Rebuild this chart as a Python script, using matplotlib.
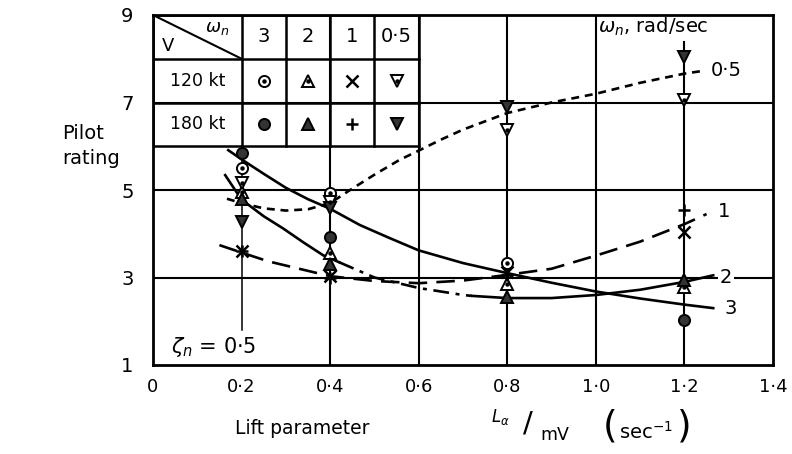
import numpy as np
import matplotlib.pyplot as plt

plt.rcParams['font.family'] = ['DejaVu Sans']
plt.rcParams['mathtext.fontset'] = 'dejavusans'

# pilot rating against L_alpha/mV, zeta_n = 0.5
# 120 kt
x_120_w3 = [0.2, 0.4, 0.8]
y_120_w3 = [5.5, 4.93, 3.33]
x_120_w2 = [0.2, 0.4, 0.8, 1.2]
y_120_w2 = [4.95, 3.55, 2.85, 2.78]
x_120_w1 = [0.2, 0.4, 0.8, 1.2]
y_120_w1 = [3.6, 3.03, 3.12, 4.04]
x_120_w05 = [0.2, 0.4, 0.8, 1.2]
y_120_w05 = [5.15, 4.72, 6.37, 7.06]
# 180 kt
x_180_w3 = [0.2, 0.4, 1.2]
y_180_w3 = [5.84, 3.93, 2.03]
x_180_w2 = [0.2, 0.4, 0.8, 1.2]
y_180_w2 = [4.8, 3.3, 2.55, 2.94]
x_180_w1 = [0.2, 0.4, 0.8, 1.2]
y_180_w1 = [3.6, 3.0, 3.05, 4.54]
x_180_w05 = [0.2, 0.4, 0.8, 1.2]
y_180_w05 = [4.27, 4.6, 6.9, 8.04]

# faired curves for each omega_n
c3_x = [0.17, 0.2, 0.25, 0.3, 0.35, 0.4, 0.467, 0.53, 0.6, 0.7, 0.8, 0.9, 1.0, 1.1, 1.2, 1.265]
c3_y = [5.91, 5.7, 5.37, 5.05, 4.79, 4.57, 4.2, 3.92, 3.62, 3.33, 3.1, 2.88, 2.68, 2.52, 2.38, 2.3]
c2_x = [0.163, 0.2, 0.25, 0.294, 0.34, 0.384, 0.42, 0.5, 0.6, 0.7, 0.72, 0.8, 0.9, 1.0, 1.1, 1.2, 1.265]
c2_y = [5.34, 4.78, 4.4, 4.12, 3.8, 3.51, 3.35, 3.0, 2.76, 2.6, 2.58, 2.53, 2.53, 2.6, 2.72, 2.9, 3.05]
c1_x = [0.15, 0.2, 0.26, 0.33, 0.4, 0.5, 0.6, 0.7, 0.8, 0.9, 1.0, 1.1, 1.2, 1.25]
c1_y = [3.74, 3.57, 3.37, 3.2, 3.03, 2.92, 2.87, 2.93, 3.06, 3.2, 3.5, 3.82, 4.22, 4.45]
c05_x = [0.167, 0.2, 0.25, 0.3, 0.35, 0.4, 0.445, 0.5, 0.557, 0.6, 0.65, 0.7, 0.8, 0.9, 1.0, 1.1, 1.2, 1.24]
c05_y = [4.8, 4.7, 4.58, 4.53, 4.56, 4.7, 5.0, 5.35, 5.69, 5.9, 6.15, 6.38, 6.76, 7.0, 7.2, 7.45, 7.66, 7.72]

omega_labels = ['3', '2', '1', '0·5']
speed_labels = ['120 kt', '180 kt']
x_ticks = [0, 0.2, 0.4, 0.6, 0.8, 1.0, 1.2, 1.4]
y_ticks = [1, 3, 5, 7, 9]

fig = plt.figure(figsize=(7.92, 4.54), dpi=100)
ax = fig.add_axes([153/792, 89/454, 620/792, 350/454])
ax.set_xlim(0, 1.4)
ax.set_ylim(1, 9)

for s in ax.spines.values():
    s.set_linewidth(2.0)
ax.set_xticks(x_ticks)
ax.set_xticklabels([('%.1f' % t).replace('.', '·') if t else '0' for t in x_ticks])
ax.set_yticks(y_ticks)
ax.set_yticklabels([str(t) for t in y_ticks])
ax.tick_params(length=0, labelsize=13, pad=9)
ax.tick_params(axis='y', labelsize=14, pad=14)

K = 'black'
glw = 1.5
# grid lines
for gx in [0.4, 0.6, 0.8, 1.0]:
    ax.plot([gx, gx], [1, 9], color=K, lw=glw, zorder=1)
ax.plot([1.2, 1.2], [1, 8.38], color=K, lw=glw, zorder=1)
ax.plot([0.2, 0.2], [6, 1.8], color=K, lw=1.1, zorder=1)
for gy in [3, 5, 7]:
    ax.plot([0, 1.4], [gy, gy], color=K, lw=glw, zorder=1)

# key table in the top left corner
tbl_cols = [0, 0.2, 0.3, 0.4, 0.5, 0.6]
tbl_rows = [9, 8, 7, 6]
for cx in tbl_cols:
    ax.plot([cx, cx], [tbl_rows[0], tbl_rows[-1]], color=K, lw=1.8, zorder=1)
for ry in tbl_rows:
    ax.plot([0, 0.6], [ry, ry], color=K, lw=1.8, zorder=1)
ax.plot([0, 0.2], [9, 8], color=K, lw=1.5, zorder=1)
ax.text(0.145, 8.7, r'$\omega_n$', fontsize=13, ha='center', va='center')
ax.text(0.035, 8.3, 'V', fontsize=13, ha='center', va='center')
for i, lab in enumerate(omega_labels):
    ax.text(0.25 + 0.1 * i, 8.5, lab, fontsize=14, ha='center', va='center')
for j, lab in enumerate(speed_labels):
    ax.text(0.1, 7.5 - j, lab, fontsize=12.5, ha='center', va='center')

fill = '#333333'


def mark(x, y, kind, filled, z=5):
    if kind in ('o', '^', 'v'):
        ms = 8 if kind == 'o' else 9
        ax.plot(x, y, ls='none', marker=kind, ms=ms, mfc=fill if filled else 'white',
                mec=K, mew=1.4, zorder=z)
        if not filled:
            ax.plot(x, y, ls='none', marker='o', ms=2.2, mfc=K, mec=K, zorder=z + 1)
    else:
        ax.plot(x, y, ls='none', marker=kind, ms=8, mec=K, mew=1.8, zorder=z)


# key entries
key_kinds = ['o', '^', 'x', 'v']
for i, kd in enumerate(key_kinds):
    kx = 0.25 + 0.1 * i
    mark([kx], [7.5], kd, False)
    mark([kx], [6.5], '+' if kd == 'x' else kd, True)

# faired curves
lw = 1.9
ax.plot(c3_x, c3_y, color=K, lw=lw, zorder=3)
ax.plot(c2_x[:7], c2_y[:7], color=K, lw=lw, zorder=3)
ax.plot(c2_x[6:11], c2_y[6:11], color=K, lw=lw, dashes=(6, 2.5, 1.5, 2.5), zorder=3)
ax.plot(c2_x[10:], c2_y[10:], color=K, lw=lw, zorder=3)
ax.plot(c1_x, c1_y, color=K, lw=lw, dashes=(7, 3.5), zorder=3)
ax.plot(c05_x, c05_y, color=K, lw=lw, dashes=(3, 2.2), zorder=3)

# data points
mark(x_120_w3, y_120_w3, 'o', False)
mark(x_120_w2, y_120_w2, '^', False)
mark(x_120_w1, y_120_w1, 'x', False)
mark(x_120_w05, y_120_w05, 'v', False)
mark(x_180_w3, y_180_w3, 'o', True)
mark(x_180_w2, y_180_w2, '^', True)
mark(x_180_w1, y_180_w1, '+', True)
mark(x_180_w05, y_180_w05, 'v', True)

# curve labels
ax.text(c05_x[-1] + 0.02, c05_y[-1], '0·5', fontsize=14, ha='left', va='center')
ax.text(c1_x[-1] + 0.025, c1_y[-1] + 0.05, '1', fontsize=14, ha='left', va='center')
ax.text(c2_x[-1] + 0.015, 3.0, '2', fontsize=14, ha='left', va='center',
        bbox=dict(fc='white', ec='none', pad=1))
ax.text(c3_x[-1] + 0.025, c3_y[-1], '3', fontsize=14, ha='left', va='center')
ax.text(1.005, 8.72, r'$\omega_n$, rad/sec', fontsize=14, ha='left', va='center')
ax.text(0.04, 1.42, r'$\zeta_n$ = 0·5', fontsize=15, ha='left', va='center')

# axis titles
fig.text(62/792, 1 - 146/454, 'Pilot\nrating', fontsize=14, ha='left', va='center',
         linespacing=1.45)
fig.text(302/792, 1 - 428/454, 'Lift parameter', fontsize=13.5, ha='center', va='center')
fig.text(500/792, 1 - 417/454, r'$L_\alpha$', fontsize=12, ha='center', va='center')
fig.text(528/792, 1 - 424/454, '/', fontsize=21, ha='center', va='center')
fig.text(555/792, 1 - 435/454, 'mV', fontsize=12.5, ha='center', va='center')
fig.text(610/792, 1 - 426/454, '(', fontsize=27, ha='center', va='center')
fig.text(646/792, 1 - 432/454, r'sec$^{-1}$', fontsize=14, ha='center', va='center')
fig.text(684/792, 1 - 426/454, ')', fontsize=27, ha='center', va='center')

fig.savefig('out.png', dpi=100)
